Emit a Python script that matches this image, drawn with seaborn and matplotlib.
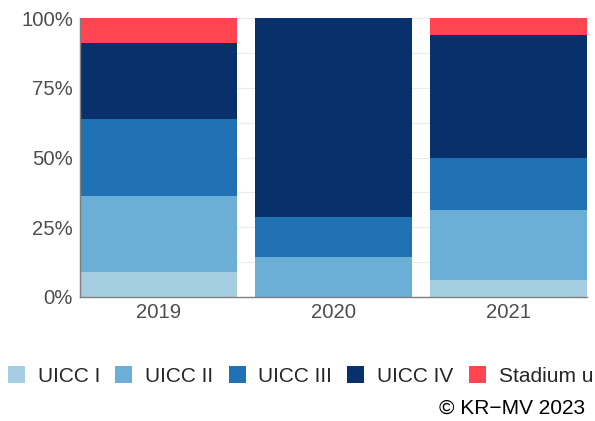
import matplotlib
matplotlib.use("Agg")
import matplotlib.pyplot as plt
import seaborn as sns
import pandas as pd
import numpy as np
from matplotlib.patches import Patch

years = ["2019", "2020", "2021"]
stages = ["UICC I", "UICC II", "UICC III", "UICC IV", "Stadium unbekannt"]
uicc1 = [1, 0, 1]
uicc2 = [3, 1, 4]
uicc3 = [3, 1, 3]
uicc4 = [3, 5, 7]
unknown = [1, 0, 1]
colors = ["#a6cee3", "#6baed6", "#2171b5", "#08306b", "#ff4650"]
ytick_labels = ["0%", "25%", "50%", "75%", "100%"]

counts = np.array([uicc1, uicc2, uicc3, uicc4, unknown], dtype=float)
pct = counts / counts.sum(axis=0) * 100
cum = np.cumsum(pct, axis=0)

rows = []
for si, st in enumerate(stages):
    for yi, yr in enumerate(years):
        rows.append({"Jahr": yr, "Stadium": st, "cum": cum[si, yi]})
df = pd.DataFrame(rows)

sns.set_style("white")
plt.rcParams["font.family"] = ["Liberation Sans", "DejaVu Sans"]
fig = plt.figure(figsize=(5.95, 4.21), dpi=100)
ax = fig.add_axes([80 / 595, 1 - 297 / 421, 507 / 595, 279 / 421])

for si in range(len(stages) - 1, -1, -1):
    sub = df[df["Stadium"] == stages[si]]
    sns.barplot(data=sub, x="Jahr", y="cum", order=years, color=colors[si],
                width=0.9, saturation=1, linewidth=0, ax=ax, zorder=2)

ax.set_xlim(-0.45, 2.45)
ax.set_ylim(0, 100)
ax.set_yticks([0, 25, 50, 75, 100])
ax.set_yticklabels(ytick_labels)
ax.set_yticks(np.arange(0, 101, 12.5), minor=True)
ax.grid(axis="y", which="both", color="#ebebeb", linewidth=0.8, zorder=0)
ax.set_axisbelow(True)
ax.set_xlabel("")
ax.set_ylabel("")
for s in ["top", "right"]:
    ax.spines[s].set_visible(False)
for s in ["left", "bottom"]:
    ax.spines[s].set_color("#7f7f7f")
    ax.spines[s].set_linewidth(1.0)
ax.tick_params(axis="both", which="both", length=0, labelsize=14.6, colors="#4d4d4d")
ax.tick_params(axis="y", pad=5)
ax.tick_params(axis="x", pad=4)

handles = [Patch(facecolor=c, edgecolor="none") for c in colors]
fig.legend(handles, stages, loc="center left", bbox_to_anchor=(8 / 595, 1 - 376 / 421),
           ncol=5, frameon=False, fontsize=15, handlelength=0.82, handleheight=0.87,
           handletextpad=0.62, columnspacing=0.72, borderpad=0, borderaxespad=0)

fig.text(585 / 595, 1 - 408 / 421, "© KR\u2212MV 2023", ha="right", va="center",
         fontsize=15, color="black")

fig.savefig("out.png", dpi=100)
